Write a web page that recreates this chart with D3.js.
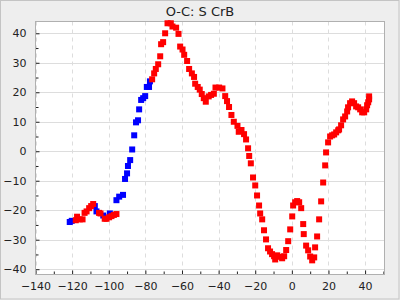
<!DOCTYPE html>
<html><head><meta charset="utf-8">
<script src="https://cdn.jsdelivr.net/npm/d3@7"></script>
<style>html,body{margin:0;padding:0;background:#eeeeee;}svg{display:block;}</style>
</head><body>
<svg id="c" width="400" height="300"></svg>
<script>
const title = "O-C: S CrB";
const xTicks = [-140,-120,-100,-80,-60,-40,-20,0,20,40];
const yTicks = [-40,-30,-20,-10,0,10,20,30,40];
const blueX = [-121.3,-120.2,-107.6,-106.7,-103,-99.4,-95.8,-94.3,-92.2,-91.1,-90,-89.5,-88.3,-87.2,-86.1,-85.1,-84.0,-83.4,-82.3,-81.2,-80.1,-79.2,-78,-77.5];
const blueY = [-24.0,-23.6,-18.6,-20.4,-21.8,-21.1,-16.6,-15.4,-14.8,-9.4,-7.5,-5.0,-3.0,0.6,5.4,9.8,10.5,14.2,17.4,18.0,18.7,21.8,21.8,23.7];
const redX = [-118,-117.3,-115.8,-114.3,-113.2,-112.1,-110.7,-109.6,-108.5,-105.3,-104.5,-102.2,-101.2,-99.8,-98.5,-97.2,-95.8,
 -76.3,-75.2,-74.3,-73,-71.9,-71.4,-70.3,-69.2,-67.9,-66.1,-65.2,-63.2,-61.9,-61,-59.7,-58.8,-57.2,-56.1,-54.6,-53.4,-52.8,-51.4,-50.3,-49.2,-48.1,-47,-45.4,-44.1,-42.6,-41.7,-39.7,-37.9,-36.4,-35.4,-34.3,-33,-31.7,-29.7,-29,-27.5,-26.1,-25,-23.9,-23.3,-22.4,-21.2,-20,-19,-17.9,-17.3,-16.2,-15.2,-14.1,-13,-11.9,-10.8,-9.7,-9.1,-8,-6.4,-5.3,-4.2,-3.1,-2,-0.9,0.2,0.7,1.8,2.9,4,5.1,6.2,6.5,7.8,8.9,10,11.1,12.2,12.7,13.8,14.9,16,17.1,18.2,18.7,19.8,20.9,22,23.1,24.2,25.3,25.8,26.9,28,29.1,30.2,30.7,31.8,32.9,34,35.1,36.2,37.3,38.4,39.5,40.6,41.1,41.7,42.2,42.2];
const redY = [-23.4,-22.2,-23.1,-23.1,-20.9,-20.4,-19.3,-18.6,-17.9,-20.9,-21.1,-22.9,-22.9,-22.4,-22.0,-21.6,-21.3,
 24.4,26.4,27.9,29.5,32.2,36.3,37.0,40.0,43.4,43.4,42.3,41.9,39.8,35.5,34.5,32.7,30.6,27.9,26.4,25.2,22.9,21.8,20.9,19.4,18.0,16.8,18.6,19.1,19.5,21.6,21.6,21.3,18.7,17.0,15.0,12.3,10.0,8.6,6.6,7.2,5.8,4.0,1.0,-1.6,-4.1,-8.9,-11.6,-15.0,-18.4,-21.1,-23.1,-26.8,-29.9,-32.9,-34.0,-34.9,-35.6,-36.7,-35.3,-35.8,-36.3,-35.6,-33.5,-30.5,-26.5,-22.1,-18.4,-17.3,-16.9,-17.3,-19.3,-24.7,-28.1,-32.0,-33.6,-35.7,-37.0,-36.0,-32.6,-28.9,-23.1,-17.0,-10.6,-4.8,-0.4,3.0,5.0,5.4,5.7,6.4,7.1,7.4,8.8,10.8,11.8,13.5,14.9,16.3,16.9,16.3,15.2,14.9,14.2,13.2,13.2,14.2,15.6,16.6,17.6,18.6];

const svg = d3.select("#c");
const L = 35.5, R = 384.5, T = 21.5, B = 274.5;
const x = d3.scaleLinear().domain([-140, 50.6]).range([L, R]);
const y = d3.scaleLinear().domain([-41.8, 44]).range([B, T]);
const font = "DejaVu Sans, sans-serif";

svg.append("rect").attr("x",0.5).attr("y",0.5).attr("width",398.5).attr("height",298.5)
  .attr("fill","#eeeeee").attr("stroke","#c4c4c4");
svg.append("text").attr("x",200).attr("y",16).attr("text-anchor","middle")
  .attr("font-family",font).attr("font-size",13).attr("fill","#222").text(title);

svg.append("rect").attr("x",L).attr("y",T).attr("width",R-L).attr("height",B-T).attr("fill","#fff");

// grid
const g = svg.append("g");
g.selectAll(".hg").data(yTicks).join("line")
  .attr("x1",L).attr("x2",R).attr("y1",d=>Math.round(y(d))+0.5).attr("y2",d=>Math.round(y(d))+0.5)
  .attr("stroke","#dddddd").attr("stroke-width",1);
g.selectAll(".vg").data(xTicks).join("line")
  .attr("y1",T).attr("y2",B).attr("x1",d=>Math.round(x(d))+0.5).attr("x2",d=>Math.round(x(d))+0.5)
  .attr("stroke","#dddddd").attr("stroke-width",1).attr("stroke-dasharray","4,4");

// axes
const yAxis = d3.axisLeft(y).tickValues(yTicks).tickSize(-4).tickPadding(9).tickFormat(d3.format("d"));
const yMinor = d3.axisLeft(y).tickValues(d3.range(-35,44,10)).tickSize(-3).tickFormat("");
const xAxis = d3.axisBottom(x).tickValues(xTicks).tickSize(-4).tickPadding(8).tickFormat(d3.format("d"));
const xMinor = d3.axisBottom(x).tickValues(d3.range(-130,51,20)).tickSize(-3).tickFormat("");

function style(sel){
  sel.select(".domain").remove();
  sel.selectAll("line").attr("stroke","#222");
  sel.selectAll("text").attr("font-family",font).attr("font-size",11).attr("fill","#222");
}
svg.append("g").attr("transform",`translate(${L},0)`).call(yAxis).call(style);
svg.append("g").attr("transform",`translate(${L},0)`).call(yMinor).call(style);
svg.append("g").attr("transform",`translate(0,${B})`).call(xAxis).call(style);
svg.append("g").attr("transform",`translate(0,${B})`).call(xMinor).call(style);

svg.append("rect").attr("x",L).attr("y",T).attr("width",R-L).attr("height",B-T)
  .attr("fill","none").attr("stroke","#b0b0b0");

// data
const s = 6;
const blue = blueX.map((v,i)=>[v,blueY[i]]);
const red = redX.map((v,i)=>[v,redY[i]]);
svg.append("g").selectAll("rect").data(blue).join("rect")
  .attr("x",d=>x(d[0])-s/2).attr("y",d=>y(d[1])-s/2).attr("width",s).attr("height",s).attr("fill","#0000ff");
svg.append("g").selectAll("rect").data(red).join("rect")
  .attr("x",d=>x(d[0])-s/2).attr("y",d=>y(d[1])-s/2).attr("width",s).attr("height",s).attr("fill","#ff0000");
</script>
</body></html>
